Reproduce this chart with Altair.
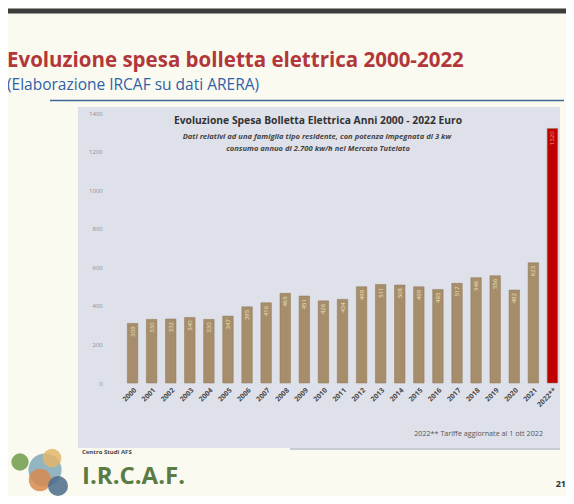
import altair as alt
import pandas as pd

years = [str(y) for y in range(2000, 2022)] + ["2022**"]
spesa = [309, 330, 332, 340, 330, 347, 395, 416, 465, 451, 426, 434,
         499, 511, 508, 499, 485, 517, 546, 556, 482, 623, 1320]
tipo = ["storico"] * 22 + ["aggiornato"]
y_ticks = [0, 200, 400, 600, 800, 1000, 1200, 1400]

df = pd.DataFrame({"anno": years, "spesa": spesa, "tipo": tipo})

# plot-area origin is at page (127.3, 113)
OX, OY = 127.3, 113.0
def px(x):
    return x - OX
def py(y):
    return y - OY

one = pd.DataFrame({"k": [0]})

def rect(x1, x2, y1, y2, color, opacity=1.0):
    return alt.Chart(one).mark_rect(color=color, opacity=opacity).encode(
        x=alt.value(px(x1)), x2=alt.value(px(x2)),
        y=alt.value(py(y1)), y2=alt.value(py(y2)))

def label(txt, x, y, size, color, weight="normal", style="normal",
          align="left", font="Open Sans"):
    return alt.Chart(one).mark_text(
        text=txt, fontSize=size, color=color, fontWeight=weight,
        fontStyle=style, align=align, baseline="alphabetic", font=font
    ).encode(x=alt.value(px(x)), y=alt.value(py(y)))

def blob(x, y, size, color):
    return alt.Chart(one).mark_point(filled=True, shape="circle", size=size,
                                     color=color, opacity=0.85).encode(
        x=alt.value(px(x)), y=alt.value(py(y)))

band = rect(6, 574, 8.5, 13.5, "#3c3c3c")
box = rect(78, 560, 107, 448, "#dfe1ea")
shadow = rect(290, 560, 448, 450, "#c9cbd2")
underline = alt.Chart(one).mark_rule(color="#3f6796", strokeWidth=1.5).encode(
    x=alt.value(px(50)), x2=alt.value(px(564)), y=alt.value(py(100.5)))

title = label("Evoluzione spesa bolletta elettrica 2000-2022", 7, 67, 20.5,
              "#b2373a", weight="bold")
subtitle = label("(Elaborazione IRCAF su dati ARERA)", 7, 90, 15.5, "#2f62a8")

c_title = label("Evoluzione Spesa Bolletta Elettrica Anni 2000 - 2022 Euro",
                318, 124, 10.3, "#333333", weight="bold", align="center")
c_sub1 = label("Dati relativi ad una famiglia tipo residente, con potenza impegnata di 3 kw",
               317, 139, 7.6, "#444444", weight="bold", style="italic", align="center")
c_sub2 = label("consumo annuo di 2.700 kw/h nel Mercato Tutelato",
               318, 150.5, 7.6, "#444444", weight="bold", style="italic", align="center")
foot = label("2022** Tariffe aggiornate al 1 ott 2022", 543, 436, 7.2, "#555555",
             align="right")

logo_parts = [
    blob(45, 470, 1100, "#7fa8b8"),
    blob(20, 462, 300, "#6f9a4a"),
    blob(52, 458, 350, "#e2b56a"),
    blob(40, 480, 500, "#d8894f"),
    blob(58, 486, 400, "#4a6a8a"),
]
logo_small = label("Centro Studi AFS", 82, 454, 6, "#444444", weight="bold")
logo_big = label("I.R.C.A.F.", 82, 484, 24, "#5b7b45", weight="bold")
page_no = label("21", 566, 487, 9, "#333333", weight="bold", align="right")

x_axis = alt.Axis(labelAngle=-45, labelFontSize=7, labelFontWeight="bold",
                  labelColor="#4a4a4a", labelPadding=3, ticks=False,
                  domain=False, labelFont="Open Sans", zindex=2)
y_axis = alt.Axis(values=y_ticks, grid=False, ticks=False, domain=False,
                  labelFontSize=6, labelColor="#8a8c98", labelPadding=25,
                  labelOverlap=False, labelFont="Open Sans", format="d",
                  zindex=2)
x_enc = alt.X("anno:N", sort=years, title=None,
              scale=alt.Scale(paddingInner=0.45, paddingOuter=0.0), axis=x_axis)
y_enc = alt.Y("spesa:Q", title=None,
              scale=alt.Scale(domain=[0, 1400], nice=False), axis=y_axis)

bars = alt.Chart(df).mark_bar(stroke="#8f7758", strokeWidth=0.5).encode(
    x=x_enc, y=y_enc,
    color=alt.Color("tipo:N", legend=None,
                    scale=alt.Scale(domain=["storico", "aggiornato"],
                                    range=["#a68e6c", "#c00000"])),
)

vals = alt.Chart(df).mark_text(angle=270, align="right", baseline="middle",
                               dx=-3, fontSize=6, font="Open Sans").encode(
    x=x_enc, y=y_enc,
    text="spesa:Q",
    color=alt.Color("tipo:N", legend=None,
                    scale=alt.Scale(domain=["storico", "aggiornato"],
                                    range=["#efe2b8", "#f4a0a0"])),
)

chart = alt.layer(
    band, box, shadow, underline, title, subtitle, c_title, c_sub1, c_sub2, foot,
    *logo_parts, logo_small, logo_big, page_no, bars, vals
).resolve_scale(color="independent").properties(
    width=430.4, height=270,
    padding={"left": 119.3, "top": 105, "right": 8.3, "bottom": 113},
    autosize=alt.AutoSizeParams(type="none"),
).configure(background="#fbfaf1").configure_view(stroke=None)

chart.save("out.html", embed_options={"renderer": "svg", "actions": False})
